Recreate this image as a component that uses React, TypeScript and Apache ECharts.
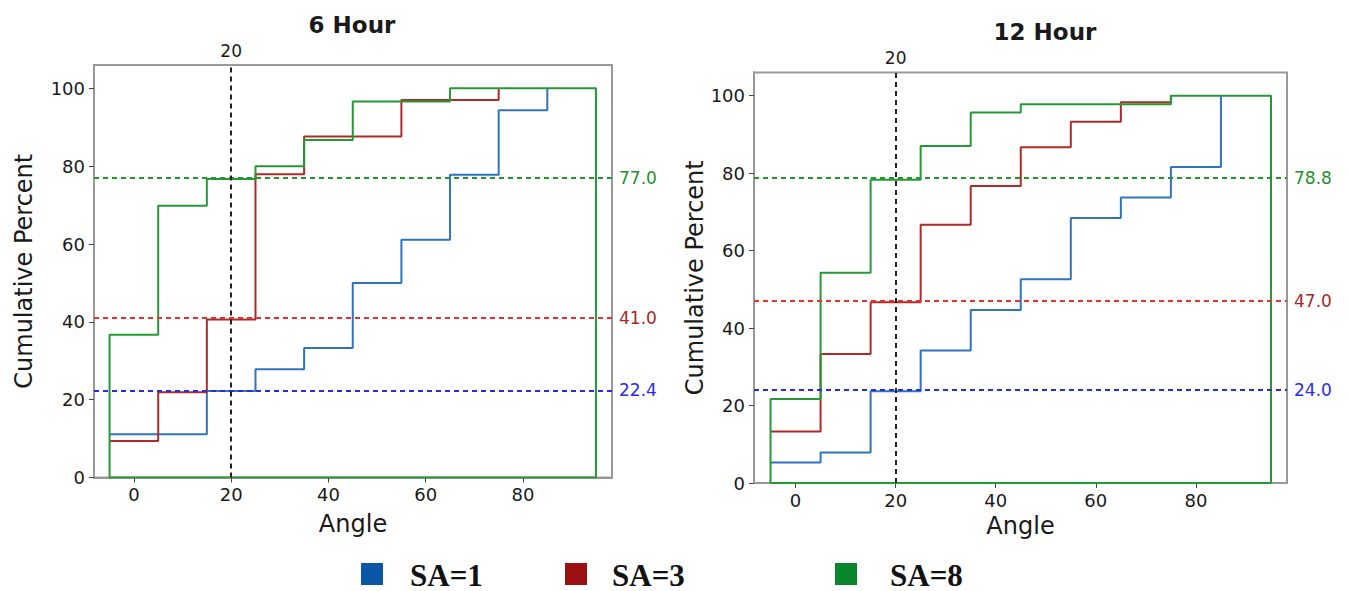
import React, { useEffect, useRef } from "react";
import * as echarts from "echarts";

// ---------- data ----------
const ANGLE_TICKS = [0, 20, 40, 60, 80];
const PERCENT_TICKS = [0, 20, 40, 60, 80, 100];
const REF_ANGLE = 20;

// 6 Hour
const h6BlueAngles = [-5, 15, 25, 35, 45, 55, 65, 75, 85];
const h6BluePct = [11.1, 22.2, 27.8, 33.3, 50.0, 61.1, 77.8, 94.4, 100];
const h6RedAngles = [-5, 5, 15, 25, 35, 55, 75];
const h6RedPct = [9.4, 21.9, 40.6, 77.9, 87.6, 97.0, 100];
const h6GreenAngles = [-5, 5, 15, 25, 35, 45, 65, 95];
const h6GreenPct = [36.7, 69.8, 76.7, 80.0, 86.7, 96.6, 100, 100];
const h6Refs = [77.0, 41.0, 22.4]; // SA=8, SA=3, SA=1

// 12 Hour
const h12BlueAngles = [-5, 5, 15, 25, 35, 45, 55, 65, 75, 85];
const h12BluePct = [5.3, 7.9, 23.7, 34.2, 44.7, 52.6, 68.4, 73.7, 81.6, 100];
const h12RedAngles = [-5, 5, 15, 25, 35, 45, 55, 65, 75];
const h12RedPct = [13.3, 33.3, 46.7, 66.7, 76.7, 86.7, 93.3, 98.3, 100];
const h12GreenAngles = [-5, 5, 15, 25, 35, 45, 75, 95];
const h12GreenPct = [21.7, 54.3, 78.3, 87.0, 95.7, 97.8, 100, 100];
const h12Refs = [78.8, 47.0, 24.0];

const LEGEND_NAMES = ["SA=1", "SA=3", "SA=8"];

// ---------- styles ----------
const FONT = "DejaVu Sans";
const TXT = "#1a1a1a";
const STEP_COLORS = ["#2f74c0", "#b02a2a", "#239a36"];
const DASH_COLORS = ["#2b2be0", "#e83030", "#1f9a2a"];
const REF_LABEL_COLORS = ["#2b2bea", "#a52828", "#1f8f2a"];
const LEGEND_COLORS = ["#0a57a8", "#9b1111", "#07862a"];

function stepPoints(angles: number[], pct: number[], closed: boolean) {
  const pts: number[][] = angles.map((a, i) => [a, pct[i]]);
  if (closed) {
    return [[angles[0], 0], ...pts, [angles[angles.length - 1], 0], [angles[0], 0]];
  }
  return pts;
}

const grids = [
  { left: 94, top: 65, width: 518, height: 412.5, xMin: -8.2, xMax: 98.3, nameGap: 58, xNameGap: 34 },
  { left: 754, top: 72.5, width: 533, height: 410.5, xMin: -8.3, xMax: 98.2, nameGap: 46, xNameGap: 31 },
];

const panels = [
  {
    blue: stepPoints(h6BlueAngles, h6BluePct, false),
    red: stepPoints(h6RedAngles, h6RedPct, false),
    green: stepPoints(h6GreenAngles, h6GreenPct, true),
    refs: h6Refs,
  },
  {
    blue: stepPoints(h12BlueAngles, h12BluePct, false),
    red: stepPoints(h12RedAngles, h12RedPct, false),
    green: stepPoints(h12GreenAngles, h12GreenPct, true),
    refs: h12Refs,
  },
];

function buildOption() {
  const series: any[] = [];
  panels.forEach((p, gi) => {
    const refColorIdx = [2, 1, 0];
    const markData: any[] = p.refs.map((v, k) => {
      const ci = refColorIdx[k];
      return {
        yAxis: v,
        lineStyle: { color: DASH_COLORS[ci], type: [5, 4], width: 1.8 },
        label: {
          show: true,
          position: "end",
          distance: 7,
          formatter: () => v.toFixed(1),
          color: REF_LABEL_COLORS[ci],
          fontSize: 17,
          fontFamily: FONT,
        },
      };
    });
    markData.push({
      xAxis: REF_ANGLE,
      lineStyle: { color: "#222", type: [5, 4], width: 2 },
      label: {
        show: true,
        position: "end",
        distance: 6,
        formatter: () => String(REF_ANGLE),
        color: TXT,
        fontSize: 17,
        fontFamily: FONT,
      },
    });
    const common = {
      type: "line",
      xAxisIndex: gi,
      yAxisIndex: gi,
      step: "end",
      symbol: "none",
      silent: true,
    };
    series.push({
      ...common,
      name: LEGEND_NAMES[0],
      data: p.blue,
      lineStyle: { color: STEP_COLORS[0], width: 2 },
      markLine: { symbol: ["none", "none"], silent: true, animation: false, data: markData },
    });
    series.push({ ...common, name: LEGEND_NAMES[1], data: p.red, lineStyle: { color: STEP_COLORS[1], width: 2 } });
    series.push({ ...common, name: LEGEND_NAMES[2], data: p.green, lineStyle: { color: STEP_COLORS[2], width: 2 } });
  });

  const legendX = [[361, 410], [565, 612], [835, 890]];
  const graphic: any[] = [];
  LEGEND_NAMES.forEach((n, i) => {
    graphic.push({
      type: "rect",
      shape: { x: legendX[i][0], y: 563, width: 22, height: 22 },
      style: { fill: LEGEND_COLORS[i] },
    });
    graphic.push({
      type: "text",
      x: legendX[i][1],
      y: 575,
      style: {
        text: n,
        font: "bold 31px 'Liberation Serif', 'DejaVu Serif', serif",
        fill: "#111",
        verticalAlign: "middle",
        align: "left",
      },
    });
  });

  const axisNameStyle = { fontFamily: FONT, fontSize: 24, color: TXT };
  const tickLabel = { fontFamily: FONT, fontSize: 18, color: TXT };

  return {
    animation: false,
    backgroundColor: "#fff",
    title: [
      { text: "6 Hour", left: 347, top: 8, textAlign: "center", textStyle: { fontFamily: FONT, fontSize: 23, fontWeight: "bold", color: TXT } },
      { text: "12 Hour", left: 1040, top: 15, textAlign: "center", textStyle: { fontFamily: FONT, fontSize: 23, fontWeight: "bold", color: TXT } },
    ],
    grid: grids.map((g) => ({
      left: g.left,
      top: g.top,
      width: g.width,
      height: g.height,
      show: true,
      borderColor: "#999",
      borderWidth: 2,
      backgroundColor: "transparent",
    })),
    xAxis: grids.map((g, i) => ({
      type: "value",
      gridIndex: i,
      min: g.xMin,
      max: g.xMax,
      name: "Angle",
      nameLocation: "middle",
      nameGap: g.xNameGap,
      nameTextStyle: axisNameStyle,
      axisLine: { show: true, onZero: false, lineStyle: { color: "#999", width: 2 } },
      axisTick: { show: true, length: 5, lineStyle: { color: "#444", width: 1 }, customValues: ANGLE_TICKS },
      axisLabel: { ...tickLabel, margin: 8, customValues: ANGLE_TICKS },
      splitLine: { show: false },
    })),
    yAxis: grids.map((g, i) => ({
      type: "value",
      gridIndex: i,
      min: 0,
      max: 106,
      name: "Cumulative Percent",
      nameLocation: "middle",
      nameGap: g.nameGap,
      nameTextStyle: axisNameStyle,
      axisLine: { show: true, onZero: false, lineStyle: { color: "#999", width: 2 } },
      axisTick: { show: true, length: 5, lineStyle: { color: "#444", width: 1 }, customValues: PERCENT_TICKS },
      axisLabel: { ...tickLabel, margin: 9, customValues: PERCENT_TICKS },
      splitLine: { show: false },
    })),
    series,
    graphic,
  };
}

export default function App() {
  const ref = useRef<HTMLDivElement>(null);
  useEffect(() => {
    if (!ref.current) return;
    const chart = echarts.init(ref.current, null, { renderer: "svg" });
    chart.setOption(buildOption() as any);
    return () => chart.dispose();
  }, []);
  return (
    <div
      ref={ref}
      style={{ position: "fixed", left: 0, top: 0, width: 1348, height: 591, background: "#fff" }}
    />
  );
}
